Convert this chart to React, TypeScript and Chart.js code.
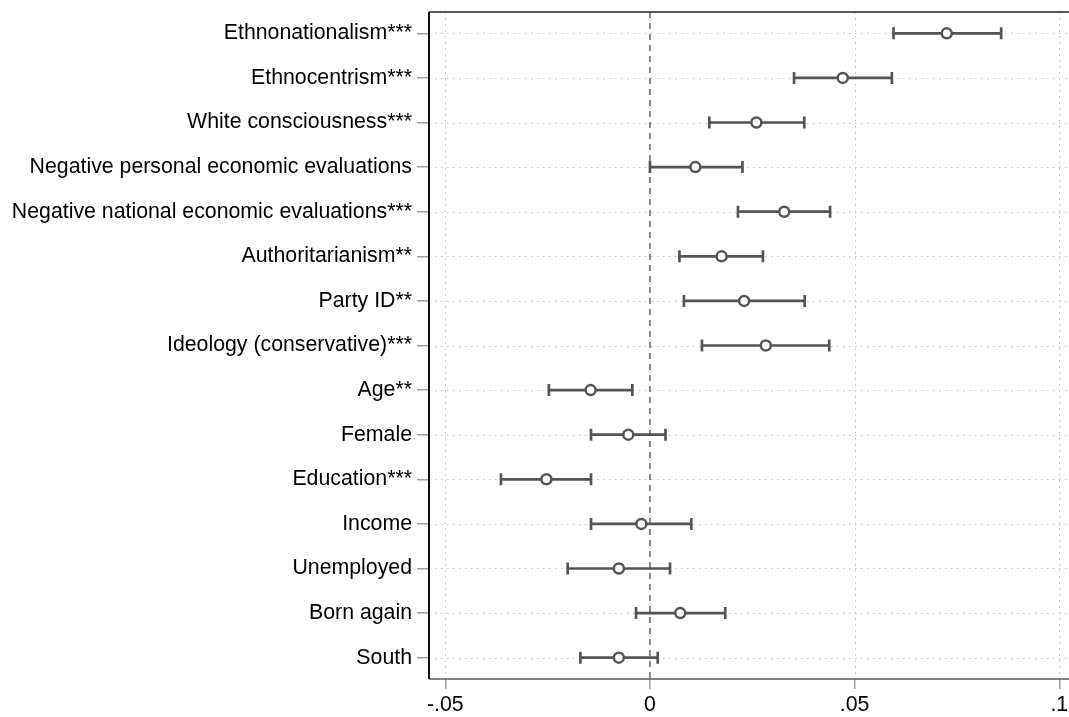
import React, { useEffect, useRef } from "react";
import { Chart, registerables } from "chart.js";

Chart.register(...registerables);

const categories = [
  "Ethnonationalism***",
  "Ethnocentrism***",
  "White consciousness***",
  "Negative personal economic evaluations",
  "Negative national economic evaluations***",
  "Authoritarianism**",
  "Party ID**",
  "Ideology (conservative)***",
  "Age**",
  "Female",
  "Education***",
  "Income",
  "Unemployed",
  "Born again",
  "South",
];

const coef = [0.0725, 0.0471, 0.026, 0.0111, 0.0328, 0.0175, 0.023, 0.0283, -0.0145, -0.0053, -0.0253, -0.0021, -0.0076, 0.0074, -0.0076];
const lower = [0.0595, 0.0352, 0.0145, 0.0, 0.0215, 0.0072, 0.0083, 0.0127, -0.0247, -0.0144, -0.0364, -0.0144, -0.0201, -0.0034, -0.017];
const upper = [0.0858, 0.0591, 0.0377, 0.0226, 0.044, 0.0276, 0.0378, 0.0438, -0.0043, 0.0038, -0.0144, 0.0101, 0.0049, 0.0184, 0.0019];

const xTickValues = [-0.05, 0, 0.05, 0.1];
const xTickLabels = ["-.05", "0", ".05", ".1"];

const FONT = "'Liberation Sans', Arial, Helvetica, sans-serif";
const BAR_COLOR = "#555555";

const overlayPlugin = {
  id: "coefOverlay",
  beforeDatasetsDraw(chart: any) {
    const { ctx, chartArea, scales } = chart;
    const xs = scales.x;
    const ys = scales.y;
    ctx.save();
    // dotted grid lines
    ctx.strokeStyle = "#bdbdbd";
    ctx.lineWidth = 1;
    ctx.setLineDash([1.5, 4.5]);
    categories.forEach((_, i) => {
      const y = Math.round(ys.getPixelForValue(i)) + 0.5;
      ctx.beginPath();
      ctx.moveTo(chartArea.left, y);
      ctx.lineTo(chartArea.right, y);
      ctx.stroke();
    });
    xTickValues.forEach((v) => {
      if (v === 0) return;
      const x = Math.round(xs.getPixelForValue(v)) + 0.5;
      ctx.beginPath();
      ctx.moveTo(x, chartArea.top);
      ctx.lineTo(x, chartArea.bottom);
      ctx.stroke();
    });
    // dashed zero line
    ctx.strokeStyle = "#707070";
    ctx.lineWidth = 1.6;
    ctx.setLineDash([6, 5]);
    const x0 = xs.getPixelForValue(0);
    ctx.beginPath();
    ctx.moveTo(x0, chartArea.top);
    ctx.lineTo(x0, chartArea.bottom);
    ctx.stroke();
    // error bars
    ctx.setLineDash([]);
    ctx.strokeStyle = BAR_COLOR;
    ctx.lineWidth = 2.7;
    categories.forEach((_, i) => {
      const y = ys.getPixelForValue(i);
      const xl = xs.getPixelForValue(lower[i]);
      const xu = xs.getPixelForValue(upper[i]);
      ctx.beginPath();
      ctx.moveTo(xl, y);
      ctx.lineTo(xu, y);
      ctx.moveTo(xl, y - 6);
      ctx.lineTo(xl, y + 6);
      ctx.moveTo(xu, y - 6);
      ctx.lineTo(xu, y + 6);
      ctx.stroke();
    });
    ctx.restore();
  },
  afterDraw(chart: any) {
    const { ctx, chartArea } = chart;
    ctx.save();
    ctx.setLineDash([]);
    // bottom axis
    ctx.strokeStyle = "#5a5a5a";
    ctx.lineWidth = 1.5;
    ctx.beginPath();
    ctx.moveTo(chartArea.left, chartArea.bottom);
    ctx.lineTo(chartArea.right, chartArea.bottom);
    ctx.stroke();
    // top border
    ctx.strokeStyle = "#222222";
    ctx.lineWidth = 1.5;
    ctx.beginPath();
    ctx.moveTo(chartArea.left, chartArea.top);
    ctx.lineTo(chartArea.right, chartArea.top);
    ctx.stroke();
    // left axis
    ctx.strokeStyle = "#111111";
    ctx.lineWidth = 2;
    ctx.beginPath();
    ctx.moveTo(chartArea.left, chartArea.top);
    ctx.lineTo(chartArea.left, chartArea.bottom);
    ctx.stroke();
    ctx.restore();
  },
};

export default function App() {
  const ref = useRef<HTMLCanvasElement | null>(null);
  useEffect(() => {
    if (!ref.current) return;
    const chart = new Chart(ref.current, {
      type: "scatter",
      data: {
        datasets: [
          {
            data: coef.map((c, i) => ({ x: c, y: i })),
            pointRadius: 5,
            pointBorderWidth: 2.5,
            borderColor: BAR_COLOR,
            backgroundColor: "#ffffff",
            pointHoverRadius: 5,
          },
        ],
      },
      options: {
        responsive: false,
        animation: false,
        events: [],
        layout: { autoPadding: false, padding: { top: 12, right: 0, left: 0, bottom: 0 } },
        plugins: {
          legend: { display: false },
          tooltip: { enabled: false },
          title: { display: false },
        },
        scales: {
          x: {
            type: "linear",
            min: -0.05398,
            max: 0.10237,
            afterBuildTicks: (scale: any) => {
              scale.ticks = xTickValues.map((v) => ({ value: v }));
            },
            afterFit: (scale: any) => {
              scale.height = 38;
              scale.paddingLeft = 0;
              scale.paddingRight = 0;
            },
            ticks: {
              autoSkip: false,
              maxRotation: 0,
              color: "#000000",
              padding: 3,
              font: { family: FONT, size: 21.3 },
              callback: (v: any) => {
                const idx = xTickValues.findIndex((t) => Math.abs(t - Number(v)) < 1e-9);
                return idx >= 0 ? xTickLabels[idx] : "";
              },
            },
            grid: {
              drawOnChartArea: false,
              drawTicks: true,
              tickLength: 10,
              tickColor: "#a0a0a0",
              lineWidth: 1.5,
            },
            border: { display: false },
          },
          y: {
            type: "linear",
            reverse: true,
            min: -0.478,
            max: 14.478,
            afterBuildTicks: (scale: any) => {
              scale.ticks = categories.map((_, i) => ({ value: i }));
            },
            afterFit: (scale: any) => {
              scale.width = 429;
              scale.paddingTop = 0;
              scale.paddingBottom = 0;
            },
            ticks: {
              autoSkip: false,
              color: "#000000",
              padding: 5,
              font: { family: FONT, size: 21.3 },
              callback: (v: any) => categories[Math.round(Number(v))] ?? "",
            },
            grid: {
              drawOnChartArea: false,
              drawTicks: true,
              tickLength: 12,
              tickColor: "#a0a0a0",
              lineWidth: 1.5,
            },
            border: { display: false },
          },
        },
      },
      plugins: [overlayPlugin],
    });
    return () => chart.destroy();
  }, []);
  return (
    <div style={{ position: "absolute", left: 0, top: 0, width: 1069, height: 717 }}>
      <canvas ref={ref} width={1069} height={717} />
    </div>
  );
}
